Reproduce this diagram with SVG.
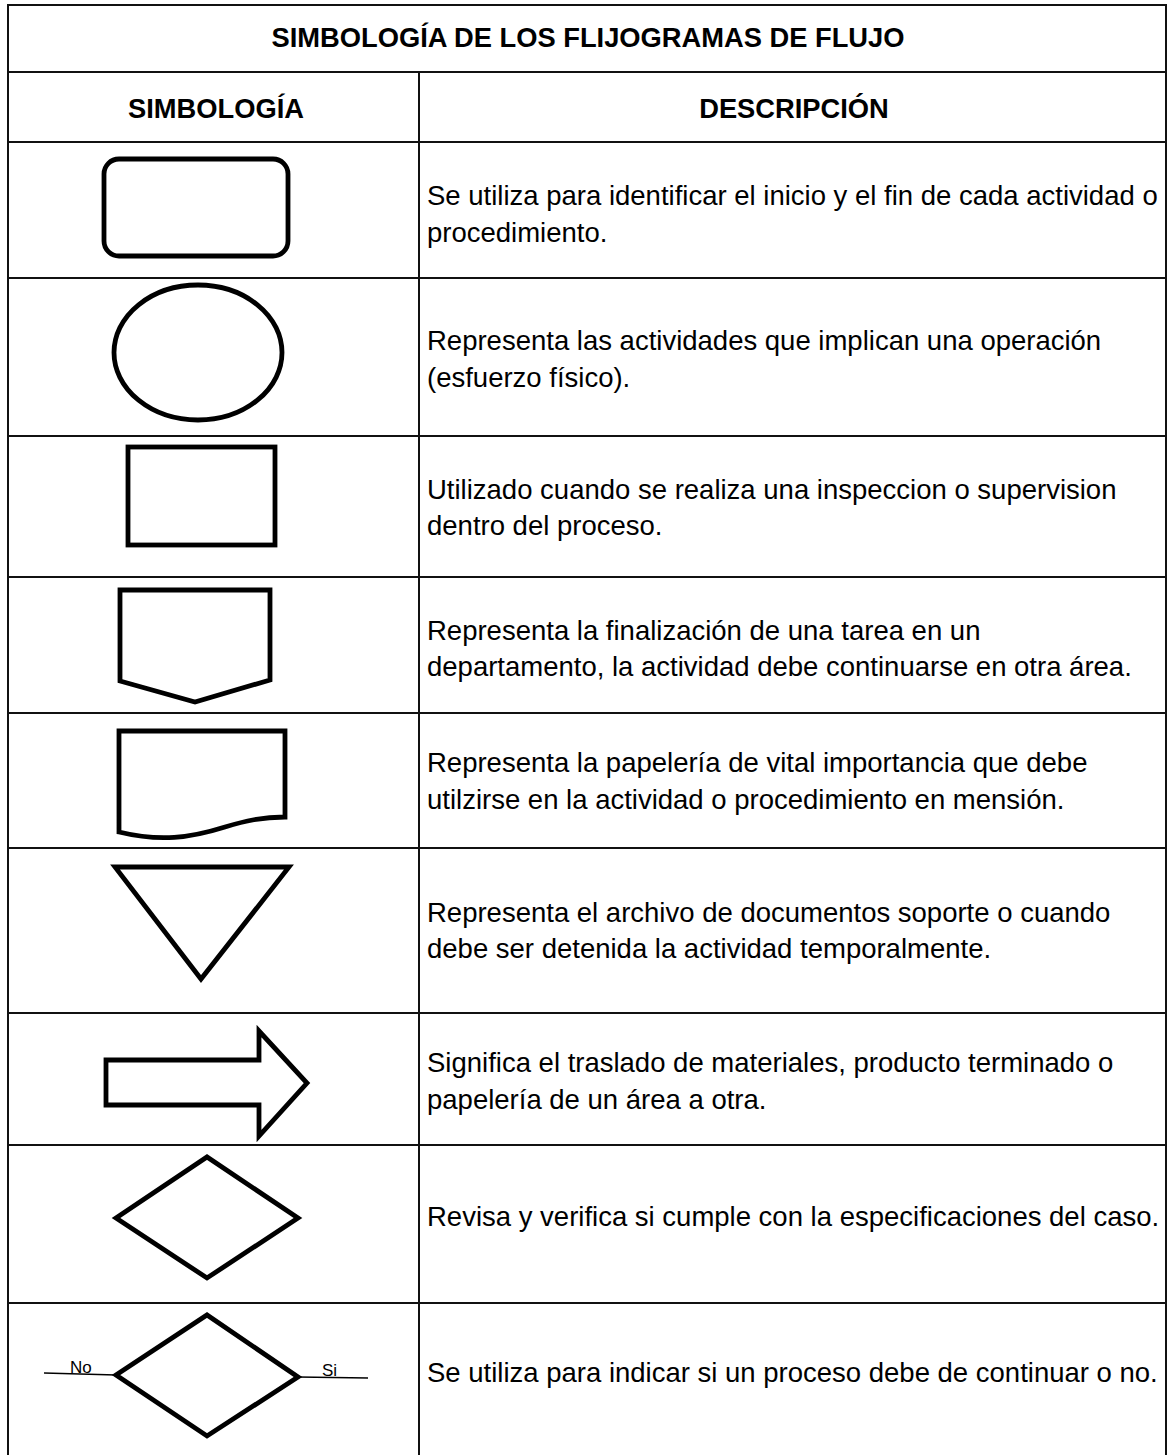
<svg xmlns="http://www.w3.org/2000/svg" width="1169" height="1455" viewBox="0 0 1169 1455">
<style>
.grid{stroke:#111;stroke-width:2;fill:none}
.sym{stroke:#000;stroke-width:4.8;fill:none;stroke-linejoin:miter}
.thin{stroke:#000;stroke-width:1.6;fill:none}
.hd{font-family:"Liberation Sans",Arial,sans-serif;font-weight:bold;font-size:27.3px;fill:#000}
.tx{font-family:"Liberation Sans",Arial,sans-serif;font-size:27.5px;fill:#000}
.lb{font-family:"Liberation Sans",Arial,sans-serif;font-size:17px;fill:#000}
</style>
<rect x="0" y="0" width="1169" height="1455" fill="#fff"/>
<g id="table">
<path class="grid" d="M8,1455 V5 H1166 V1455"/>
<path class="grid" d="M8,72 H1166 M8,142 H1166 M8,278 H1166 M8,436 H1166 M8,577 H1166 M8,713 H1166 M8,848 H1166 M8,1013 H1166 M8,1145 H1166 M8,1303 H1166"/>
<path class="grid" d="M419,72 V1455"/>
<text class="hd" x="588" y="47" text-anchor="middle">SIMBOLOGÍA DE LOS FLIJOGRAMAS DE FLUJO</text>
<text class="hd" x="216" y="118" text-anchor="middle">SIMBOLOGÍA</text>
<text class="hd" x="794" y="118" text-anchor="middle">DESCRIPCIÓN</text>
</g>
<g id="row-inicio-fin">
<rect class="sym" x="104" y="159" width="184" height="97" rx="15"/>
<text class="tx" x="427" y="205">Se utiliza para identificar el inicio y el fin de cada actividad o</text>
<text class="tx" x="427" y="242">procedimiento.</text>
</g>
<g id="row-operacion">
<ellipse class="sym" cx="198" cy="352.5" rx="84" ry="67.5"/>
<text class="tx" x="427" y="350">Representa las actividades que implican una operación</text>
<text class="tx" x="427" y="387">(esfuerzo físico).</text>
</g>
<g id="row-inspeccion">
<rect class="sym" x="128" y="447" width="147" height="98"/>
<text class="tx" x="427" y="499">Utilizado cuando se realiza una inspeccion o supervision</text>
<text class="tx" x="427" y="535">dentro del proceso.</text>
</g>
<g id="row-conector">
<polygon class="sym" points="120,590 270,590 270,680 195,702 120,681"/>
<text class="tx" x="427" y="640">Representa la finalización de una tarea en un</text>
<text class="tx" x="427" y="676">departamento, la actividad debe continuarse en otra área.</text>
</g>
<g id="row-documento">
<path class="sym" d="M119,832 V731 H285 V817 C262,817 245,821 225,827 C190,838 160,842 119,832 Z"/>
<text class="tx" x="427" y="772">Representa la papelería de vital importancia que debe</text>
<text class="tx" x="427" y="809">utilzirse en la actividad o procedimiento en mensión.</text>
</g>
<g id="row-archivo">
<polygon class="sym" points="115,867 289,867 201,979"/>
<text class="tx" x="427" y="922">Representa el archivo de documentos soporte o cuando</text>
<text class="tx" x="427" y="958">debe ser detenida la actividad temporalmente.</text>
</g>
<g id="row-traslado">
<polygon class="sym" points="106,1060 259,1060 259,1031 307,1083 259,1136 259,1105 106,1105"/>
<text class="tx" x="427" y="1072">Significa el traslado de materiales, producto terminado o</text>
<text class="tx" x="427" y="1109">papelería de un área a otra.</text>
</g>
<g id="row-revision">
<polygon class="sym" points="116,1218 207,1157 298,1218 207,1278"/>
<text class="tx" x="427" y="1226">Revisa y verifica si cumple con la especificaciones del caso.</text>
</g>
<g id="row-decision">
<polygon class="sym" points="116,1375 207,1315 298,1377 207,1436"/>
<text class="tx" x="427" y="1382">Se utiliza para indicar si un proceso debe de continuar o no.</text>
</g>
<g id="connectors">
<line class="thin" x1="44" y1="1373" x2="116" y2="1375"/>
<line class="thin" x1="298" y1="1377" x2="368" y2="1378"/>
<text class="lb" x="70" y="1373">No</text>
<text class="lb" x="322" y="1376">Si</text>
</g>
</svg>
